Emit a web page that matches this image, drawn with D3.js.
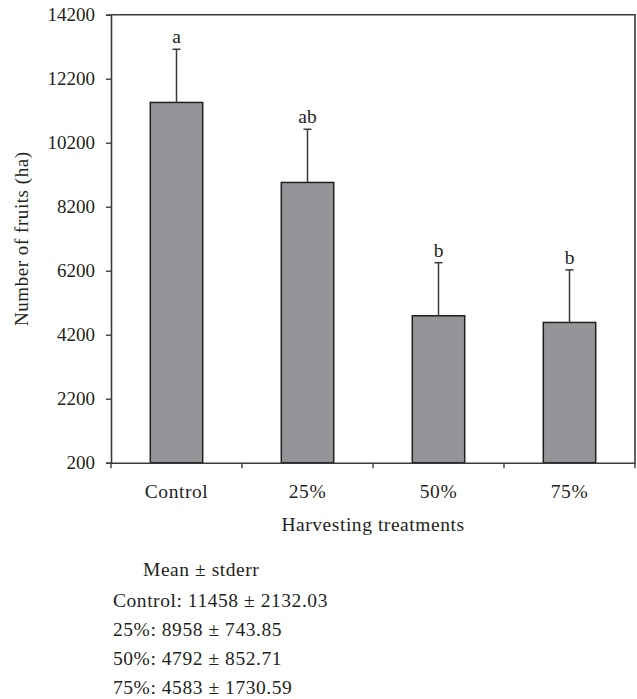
<!DOCTYPE html>
<html lang="en">
<head>
  <meta charset="UTF-8">
  <title>Number of fruits by harvesting treatment</title>
  <script src="https://d3js.org/d3.v7.min.js"></script>
  <style>
    body {
      margin: 0;
      background: #fff;
    }
    svg text {
      font-family: "Liberation Serif", "DejaVu Serif", serif;
      fill: #231f20;
    }
    .wide {
      letter-spacing: 0.55px;
    }
  </style>
</head>
<body>
  <svg id="chart" width="637" height="699"></svg>
  <script>
    // data
    const treatments = ["Control", "25%", "50%", "75%"];
    const means = [11458, 8958, 4792, 4583];
    const stderrs = [2132.03, 743.85, 852.71, 1730.59];   // as printed below the chart
    const errBars = [1662, 1662, 1658, 1642];             // drawn bar half-length
    const letters = ["a", "ab", "b", "b"];
    const yTicks = [200, 2200, 4200, 6200, 8200, 10200, 12200, 14200];

    const margin = { top: 14.7, right: 2, bottom: 236.3, left: 111 },
          width = 637 - margin.left - margin.right,
          height = 699 - margin.top - margin.bottom;

    const svg = d3.select("#chart");
    const g = svg.append("g")
      .attr("transform", `translate(${margin.left},${margin.top})`);

    const x = d3.scaleBand()
      .domain(treatments)
      .range([0, width])
      .paddingInner(0.6)
      .paddingOuter(0.3);

    const y = d3.scaleLinear()
      .domain([200, 14200])
      .range([height, 0]);

    // frame (top + right)
    g.append("path")
      .attr("d", `M0,0H${width}V${height}`)
      .attr("fill", "none")
      .attr("stroke", "#3a3a3a")
      .attr("stroke-width", 1.6);

    // y axis
    const yAxis = g.append("g")
      .call(d3.axisLeft(y).tickValues(yTicks).tickSize(5).tickPadding(11).tickFormat(d3.format("d")));
    yAxis.select(".domain").attr("stroke", "#3a3a3a").attr("stroke-width", 1.6);
    yAxis.selectAll(".tick line").attr("stroke", "#3a3a3a").attr("stroke-width", 1.4);
    yAxis.selectAll("text")
      .attr("font-size", "19px")
      .attr("font-family", "Liberation Serif")
      .attr("fill", "#231f20");

    // bars
    g.selectAll(".bar")
      .data(treatments)
      .enter()
      .append("rect")
      .attr("class", "bar")
      .attr("x", d => x(d))
      .attr("y", (d, i) => y(means[i]))
      .attr("width", x.bandwidth())
      .attr("height", (d, i) => y(200) - y(means[i]))
      .attr("fill", "#939598")
      .attr("stroke", "#231f20")
      .attr("stroke-width", 1.5);

    // error bars (upper only)
    const err = g.selectAll(".err")
      .data(treatments)
      .enter()
      .append("g")
      .attr("class", "err")
      .attr("transform", d => `translate(${x(d) + x.bandwidth() / 2},0)`);

    err.append("line")
      .attr("y1", (d, i) => y(means[i]))
      .attr("y2", (d, i) => y(means[i] + errBars[i]))
      .attr("stroke", "#3a3a3a")
      .attr("stroke-width", 1.5);

    err.append("line")
      .attr("x1", -4)
      .attr("x2", 4)
      .attr("y1", (d, i) => y(means[i] + errBars[i]))
      .attr("y2", (d, i) => y(means[i] + errBars[i]))
      .attr("stroke", "#3a3a3a")
      .attr("stroke-width", 1.5);

    err.append("text")
      .attr("text-anchor", "middle")
      .attr("y", (d, i) => y(means[i] + errBars[i]) - 6)
      .attr("font-size", "19.5px")
      .text((d, i) => letters[i]);

    // x axis: baseline, boundary ticks, centred labels
    const xAxis = g.append("g")
      .attr("transform", `translate(0,${height})`)
      .call(d3.axisBottom(x).tickSize(0).tickPadding(21));
    xAxis.select(".domain").attr("stroke", "#3a3a3a").attr("stroke-width", 1.6);
    xAxis.selectAll("text")
      .attr("class", "wide")
      .attr("font-size", "19.5px")
      .attr("font-family", "Liberation Serif")
      .attr("fill", "#231f20");

    const bounds = treatments.map(d => x(d) - x.step() * 0.3).concat([width]);
    xAxis.selectAll(".bound")
      .data(bounds)
      .enter()
      .append("line")
      .attr("class", "bound")
      .attr("x1", d => d)
      .attr("x2", d => d)
      .attr("y1", 0)
      .attr("y2", 5.5)
      .attr("stroke", "#3a3a3a")
      .attr("stroke-width", 1.4);

    // axis titles
    g.append("text")
      .attr("class", "wide")
      .attr("x", width / 2)
      .attr("y", height + 68)
      .attr("text-anchor", "middle")
      .attr("font-size", "19.5px")
      .text("Harvesting treatments");

    svg.append("text")
      .attr("class", "wide")
      .attr("transform", `translate(28,${margin.top + height / 2}) rotate(-90)`)
      .attr("text-anchor", "middle")
      .attr("font-size", "19px")
      .text("Number of fruits (ha)");

    // summary text
    svg.append("text")
      .attr("class", "wide")
      .attr("x", 143)
      .attr("y", 576)
      .attr("font-size", "19.5px")
      .text("Mean \u00b1 stderr");

    svg.selectAll(".summary")
      .data(treatments)
      .enter()
      .append("text")
      .attr("class", "summary wide")
      .attr("x", 113)
      .attr("y", (d, i) => 607 + i * 29)
      .attr("font-size", "19.5px")
      .text((d, i) => `${d}: ${means[i]} \u00b1 ${stderrs[i].toFixed(2)}`);
  </script>
</body>
</html>
